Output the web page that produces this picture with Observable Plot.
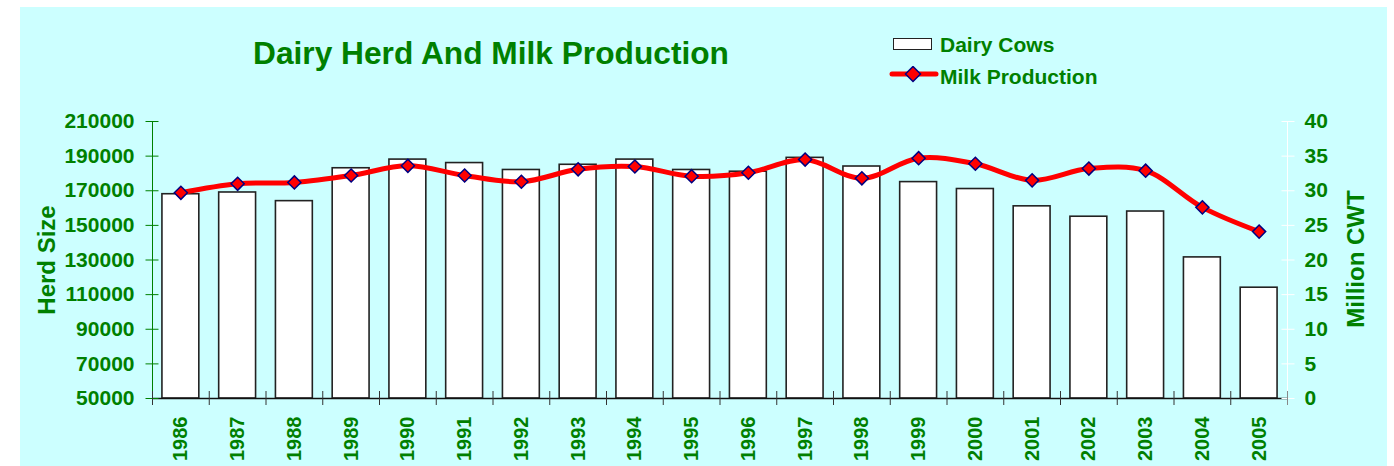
<!DOCTYPE html>
<html>
<head>
<meta charset="utf-8">
<script src="https://cdn.jsdelivr.net/npm/d3@7"></script>
<script src="https://cdn.jsdelivr.net/npm/@observablehq/plot@0.6"></script>
<style>
  html, body { margin: 0; padding: 0; background: #ffffff; }
  body { position: relative; width: 1394px; height: 466px; overflow: hidden;
         font-family: "Liberation Sans", Arial, sans-serif; font-weight: bold; color: #008000; }
  #panel { position: absolute; left: 20px; top: 7px; width: 1367px; height: 459px; background: #CCFFFF; }
  #chart { position: absolute; left: 0; top: 0; }
  .t { position: absolute; white-space: nowrap; line-height: 1; }
  #title { left: 253px; top: 37.5px; font-size: 31.7px; }
  .leg { font-size: 21px; left: 940px; }
  #swatchBox { position: absolute; left: 893px; top: 38px; width: 37px; height: 10px; background: #fff; border: 1.5px solid #222; }
  #swatchLine { position: absolute; left: 888px; top: 66px; }
  .ylab { position: absolute; font-size: 24px; line-height: 1; white-space: nowrap; transform: translate(-50%, -50%) rotate(-90deg); }
</style>
</head>
<body>
<div id="panel"></div>
<div id="chart"></div>
<div id="title" class="t">Dairy Herd And Milk Production</div>
<div id="swatchBox"></div>
<div class="t leg" style="top:33.9px">Dairy Cows</div>
<svg id="swatchLine" width="54" height="18">
  <line x1="4" y1="8" x2="48" y2="8" stroke="#ff0000" stroke-width="5" stroke-linecap="round"></line>
  <path d="M25,0.5 L32.5,8 L25,15.5 L17.5,8 Z" fill="#ff0000" stroke="#000080" stroke-width="1.5"></path>
</svg>
<div class="t leg" style="top:65.5px">Milk Production</div>
<div class="ylab" style="left:47px; top:260px">Herd Size</div>
<div class="ylab" style="left:1356px; top:259px">Million CWT</div>
<script>
// ---- data ----
const years = ["1986","1987","1988","1989","1990","1991","1992","1993","1994","1995",
               "1996","1997","1998","1999","2000","2001","2002","2003","2004","2005"];
const dairyCows = [168000,169000,164000,183000,188000,186000,182000,185000,188000,182000,
                   181000,189000,184000,175000,171000,161000,155000,158000,131500,114000];
const milkProduction = [29.7,31.0,31.2,32.2,33.6,32.2,31.3,33.1,33.5,32.1,
                        32.6,34.5,31.8,34.7,33.9,31.5,33.2,32.9,27.6,24.1];
const herdTicks = [50000,70000,90000,110000,130000,150000,170000,190000,210000];
const milkTicks = [0,5,10,15,20,25,30,35,40];

const HERD_MIN = 50000, HERD_MAX = 210000, MILK_MAX = 40;
const toHerd = m => HERD_MIN + m * (HERD_MAX - HERD_MIN) / MILK_MAX;
const fromHerd = h => Math.round((h - HERD_MIN) * MILK_MAX / (HERD_MAX - HERD_MIN));

const data = years.map((y, i) => ({year: y, cows: dairyCows[i], milk: milkProduction[i], milkH: toHerd(milkProduction[i])}));

const GREEN = "#008000";
const W = 1394, H = 466, ML = 152, MR = 107, MT = 121, MB = 68;
const halfStep = (W - ML - MR) / years.length / 2;

const chart = Plot.plot({
  width: W, height: H,
  marginLeft: ML, marginRight: MR, marginTop: MT, marginBottom: MB,
  style: {background: "transparent", fontFamily: '"Liberation Sans", Arial, sans-serif', fontWeight: "bold", color: GREEN, overflow: "visible"},
  x: {type: "band", domain: years, paddingInner: 0.35, paddingOuter: 0.175, round: false},
  y: {domain: [HERD_MIN, HERD_MAX]},
  marks: [
    // bars
    Plot.barY(data, {x: "year", y1: HERD_MIN, y2: "cows", fill: "#ffffff", stroke: "#222", strokeWidth: 1.6}),
    // axis lines
    Plot.ruleX([years[0]], {x: d => d, dx: -halfStep, y1: HERD_MIN, y2: HERD_MAX, stroke: GREEN, strokeWidth: 1}),
    Plot.ruleX([years[years.length - 1]], {x: d => d, dx: halfStep, y1: HERD_MIN, y2: HERD_MAX, stroke: "#ffffff", strokeWidth: 1}),
    Plot.ruleY([HERD_MIN], {stroke: "#111", strokeWidth: 1.5}),
    // left axis: ticks crossing + labels
    Plot.axisY({anchor: "left", ticks: herdTicks, fill: "none", stroke: GREEN, tickSize: 13, dx: 6.5, label: null}),
    Plot.axisY({anchor: "left", ticks: herdTicks, tickSize: 0, tickPadding: 18, stroke: "none", fill: GREEN, fontSize: 21, fontWeight: "bold", tickFormat: d => String(d), label: null}),
    // right axis
    Plot.axisY({anchor: "right", ticks: milkTicks.map(toHerd), fill: "none", stroke: "#ffffff", tickSize: 13, dx: -6.5, label: null}),
    Plot.axisY({anchor: "right", ticks: milkTicks.map(toHerd), tickSize: 0, tickPadding: 17, stroke: "none", fill: GREEN, fontSize: 21, fontWeight: "bold", tickFormat: d => String(fromHerd(d)), label: null}),
    // x axis ticks at band boundaries
    Plot.axisX({anchor: "bottom", fill: "none", stroke: "#333", tickSize: 14, dx: -halfStep, dy: -7, label: null}),
    Plot.axisX({anchor: "bottom", ticks: [years[years.length - 1]], fill: "none", stroke: "#888", tickSize: 14, dx: halfStep, dy: -7, label: null}),
    Plot.axisX({anchor: "bottom", tickSize: 0, tickPadding: 18, tickRotate: -90, stroke: "none", fill: GREEN, fontSize: 20, fontWeight: "bold", label: null}),
    // milk line
    Plot.line(data, {x: "year", y: "milkH", stroke: "#ff0000", strokeWidth: 5, curve: "catmull-rom"}),
    Plot.dot(data, {x: "year", y: "milkH", symbol: "diamond2", r: 5.9, fill: "#ff0000", stroke: "#000080", strokeWidth: 1.5})
  ]
});
document.getElementById("chart").appendChild(chart);
</script>
</body>
</html>
